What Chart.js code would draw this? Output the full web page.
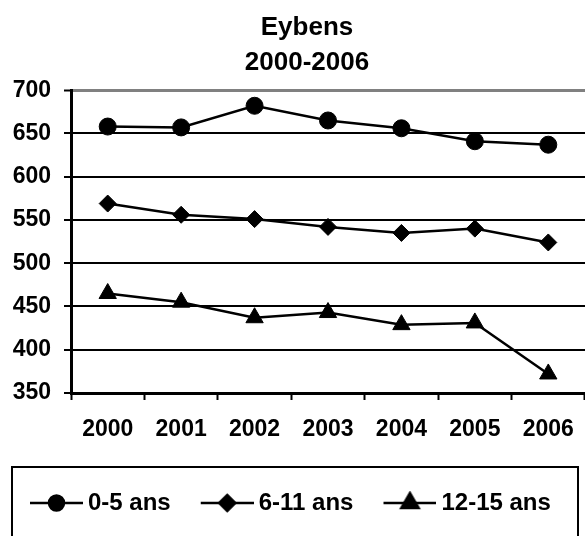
<!DOCTYPE html>
<html><head><meta charset="utf-8">
<script src="https://cdn.jsdelivr.net/npm/chart.js@4.4.0/dist/chart.umd.min.js"></script>
<style>html,body{margin:0;padding:0;background:#fff}#wrap{width:585px;height:536px}</style>
</head><body><div id="wrap"><canvas id="c" width="585" height="536"></canvas></div>
<script>
const years = ['2000','2001','2002','2003','2004','2005','2006'];
const age0_5 = [658, 657, 682, 665, 656, 641, 637];
const age6_11 = [569, 556, 551, 542, 535, 540, 524];
const age12_15 = [465, 455, 437, 443, 429, 431, 372];
const seriesNames = ['0-5 ans', '6-11 ans', '12-15 ans'];
const titleLines = ['Eybens', '2000-2006'];
const yTicks = [350, 400, 450, 500, 550, 600, 650, 700];

const FONT = "'Liberation Sans', Arial, Helvetica, sans-serif";
const markerStyles = ['circle', 'rectRot', 'triangle'];
const markerRadii = [8.5, 8.5, 10];
const legendRadii = [7.5, 8, 10];

function makeLegendIcon(style, r) {
  const cv = document.createElement('canvas');
  cv.width = 80; cv.height = 24;
  const g = cv.getContext('2d');
  const x0 = 27, x1 = 80, cy = 12, cx = (x0 + x1) / 2;
  g.strokeStyle = '#000'; g.lineWidth = 2.5;
  g.beginPath(); g.moveTo(x0, cy); g.lineTo(x1, cy); g.stroke();
  g.fillStyle = '#000';
  Chart.helpers.drawPoint(g, {pointStyle: style, radius: r, rotation: 0, borderWidth: 1}, cx, cy);
  g.fill();
  return cv;
}

const ctx = document.getElementById('c').getContext('2d');
const seriesData = [age0_5, age6_11, age12_15];
const icons = markerStyles.map((s, i) => makeLegendIcon(s, legendRadii[i]));

const tweaks = {
  id: 'tweaks',
  afterLayout(chart) {
    if (chart.titleBlock) chart.titleBlock.left = chart.titleBlock.right - 564;
  },
  afterDraw(chart) {
    const lg = chart.legend;
    const c = chart.ctx;
    c.save();
    c.strokeStyle = '#000';
    c.lineWidth = 2;
    const top = lg.top + lg.options.labels.padding + 12 - 36;
    c.strokeRect(12, top, 566, chart.height - top + 10);
    c.restore();
  }
};

new Chart(ctx, {
  type: 'line',
  data: {
    labels: years,
    datasets: seriesData.map((d, i) => ({
      label: seriesNames[i],
      data: d,
      borderColor: '#000',
      backgroundColor: '#000',
      borderWidth: 2.5,
      pointStyle: markerStyles[i],
      pointRadius: markerRadii[i],
      pointBackgroundColor: '#000',
      pointBorderColor: '#000',
      pointBorderWidth: 1,
      tension: 0,
      fill: false,
      clip: false
    }))
  },
  options: {
    responsive: false,
    animation: false,
    layout: {autoPadding: false, padding: {left: 0, right: -4, top: 0, bottom: 11}},
    plugins: {
      title: {
        display: true, text: titleLines, color: '#000',
        font: {family: FONT, size: 26, weight: 'bold', lineHeight: 1.35},
        padding: {top: 10, bottom: 10}
      },
      legend: {
        position: 'bottom', align: 'start',
        labels: {
          usePointStyle: true, pointStyleWidth: 66, boxHeight: 24, padding: 10,
          color: '#000', font: {family: FONT, size: 24, weight: 'bold'},
          generateLabels(chart) {
            const items = Chart.defaults.plugins.legend.labels.generateLabels(chart);
            items.forEach((it, i) => { it.pointStyle = icons[i]; it.fontColor = '#000'; });
            return items;
          }
        }
      },
      tooltip: {enabled: false}
    },
    scales: {
      x: {
        offset: true,
        grid: {offset: true, drawOnChartArea: false, drawTicks: true, tickLength: 7, tickWidth: 2, tickColor: '#000'},
        border: {color: '#000', width: 3},
        ticks: {color: '#000', padding: 16, font: {family: FONT, size: 23, weight: 'bold'}},
        afterFit(s) { s.height = 88; s.paddingLeft = 0; s.paddingRight = 0; }
      },
      y: {
        min: yTicks[0], max: yTicks[yTicks.length - 1],
        afterBuildTicks(s) { s.ticks = yTicks.map(v => ({value: v})); },
        ticks: {color: '#000', padding: 13, font: {family: FONT, size: 23, weight: 'bold'}},
        grid: {
          color: c => (c.tick && c.tick.value === 700) ? '#808080' : '#000',
          lineWidth: c => (c.tick && c.tick.value === 700) ? 3 : 2,
          tickColor: '#000', tickLength: 7, tickWidth: 2
        },
        border: {color: '#000', width: 3},
        afterFit(s) { s.width = 71; }
      }
    }
  },
  plugins: [tweaks]
});
</script>
</body></html>
